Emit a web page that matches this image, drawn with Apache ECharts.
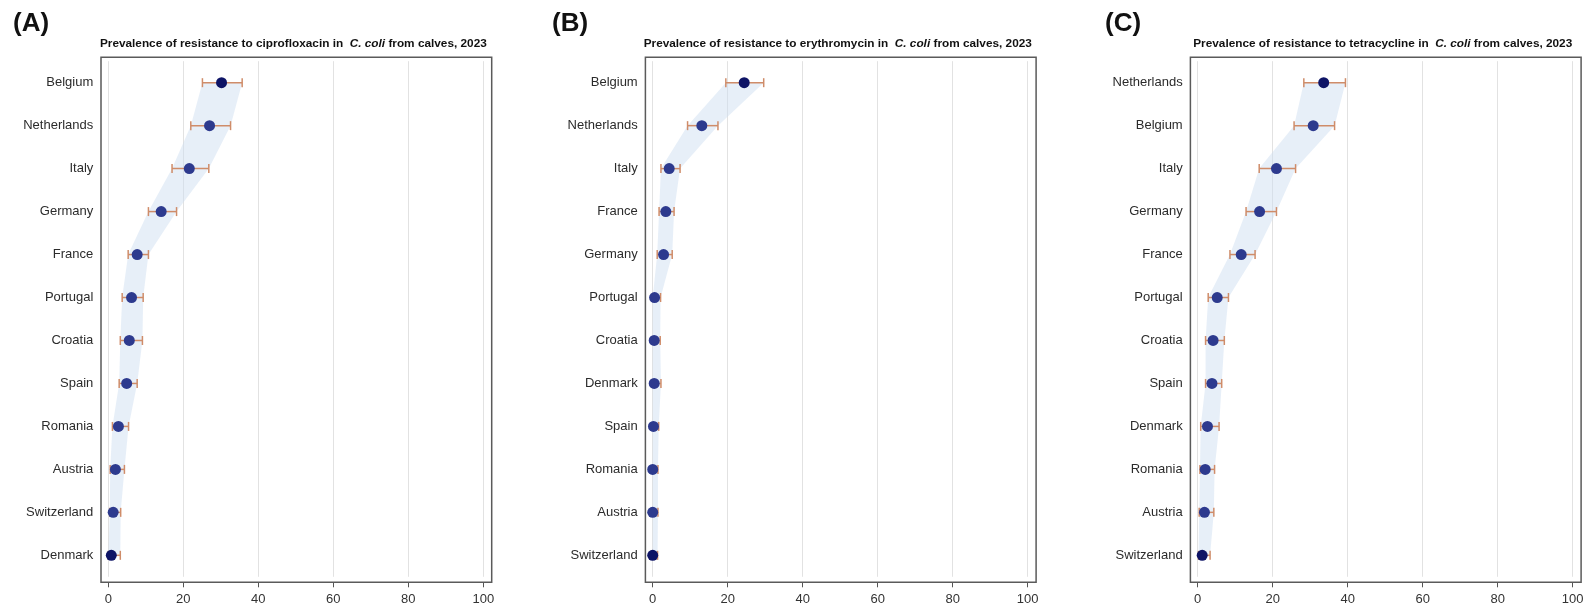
<!DOCTYPE html>
<html><head><meta charset="utf-8">
<script src="https://cdn.jsdelivr.net/npm/echarts@6/dist/echarts.min.js"></script>
<style>html,body{margin:0;padding:0;background:#fff}#c{width:1589px;height:612px}</style>
</head><body><div id="c"></div>
<script>
// ---- data ----
const panelLabels = ['(A)', '(B)', '(C)'];
const drugs = ['ciprofloxacin', 'erythromycin', 'tetracycline'];
const xTicks = [0, 20, 40, 60, 80, 100];

const catsA = ['Belgium','Netherlands','Italy','Germany','France','Portugal','Croatia','Spain','Romania','Austria','Switzerland','Denmark'];
const estA  = [30.2, 27.0, 21.6, 14.1, 7.7, 6.2, 5.6, 4.9, 2.7, 1.9, 1.3, 0.8];
const lowA  = [25.1, 22.0, 17.0, 10.7, 5.3, 3.7, 3.2, 2.9, 1.1, 0.5, 0.4, 0.0];
const highA = [35.7, 32.6, 26.8, 18.2, 10.7, 9.3, 9.1, 7.7, 5.4, 4.3, 3.3, 3.2];

const catsB = ['Belgium','Netherlands','Italy','France','Germany','Portugal','Croatia','Denmark','Spain','Romania','Austria','Switzerland'];
const estB  = [24.4, 13.1, 4.4, 3.5, 2.9, 0.5, 0.4, 0.4, 0.2, 0.0, 0.0, 0.0];
const lowB  = [19.5, 9.3, 2.2, 1.7, 1.2, 0.0, 0.0, 0.0, 0.0, 0.0, 0.0, 0.0];
const highB = [29.6, 17.4, 7.3, 5.7, 5.2, 2.1, 2.0, 2.2, 1.6, 1.4, 1.4, 1.3];

const catsC = ['Netherlands','Belgium','Italy','Germany','France','Portugal','Croatia','Spain','Denmark','Romania','Austria','Switzerland'];
const estC  = [33.6, 30.8, 21.0, 16.5, 11.6, 5.2, 4.1, 3.8, 2.6, 2.0, 1.8, 1.2];
const lowC  = [28.3, 25.7, 16.4, 12.9, 8.6, 2.8, 2.1, 2.1, 0.8, 0.6, 0.4, 0.2];
const highC = [39.4, 36.5, 26.1, 21.0, 15.3, 8.2, 7.1, 6.4, 5.7, 4.5, 4.3, 3.3];

// ---- layout / style ----
const panels = [
  {cats: catsA, est: estA, low: lowA, high: highA},
  {cats: catsB, est: estB, low: lowB, high: highB},
  {cats: catsC, est: estC, low: lowC, high: highC}
];
const X0 = [108.3, 652.7, 1197.7];
const LBLX = [13, 552, 1105];
const GW = 375, GTOP = 61.2, GH = 515.6;
const BOX_PAD_L = 7.3, BOX_W = 390.7, BOX_TOP = 57.3, BOX_H = 525;
const FONT = '"Liberation Sans", Arial, sans-serif';
const ERR = '#cf8c69';
const DOT = '#2d3a8e', DOT_DARK = '#0e1466';
const BAND = 'rgba(205,221,241,0.48)';

const grids = [], xAxes = [], yAxes = [], series = [], graphics = [];

panels.forEach((p, i) => {
  grids.push({left: X0[i], top: GTOP, width: GW, height: GH});
  xAxes.push({
    gridIndex: i, type: 'value', min: xTicks[0], max: xTicks[xTicks.length - 1], interval: 20,
    offset: 5.5,
    axisLine: {show: false},
    axisTick: {show: true, length: 5, lineStyle: {color: '#555', width: 1}},
    axisLabel: {color: '#333', fontSize: 13, fontFamily: FONT, margin: 11},
    splitLine: {show: true, lineStyle: {color: '#e2e2e2', width: 1}}
  });
  yAxes.push({
    gridIndex: i, type: 'category', inverse: true, data: p.cats,
    axisLine: {show: false}, axisTick: {show: false}, splitLine: {show: false},
    axisLabel: {color: '#2b2b2b', fontSize: 13, fontFamily: FONT, margin: 15}
  });
  // CI band
  series.push({
    type: 'custom', xAxisIndex: i, yAxisIndex: i, silent: true, z: 1,
    data: [[0, 0]],
    renderItem: (params, api) => {
      const pts = [];
      for (let k = 0; k < p.low.length; k++) pts.push(api.coord([p.low[k], k]));
      for (let k = p.high.length - 1; k >= 0; k--) pts.push(api.coord([p.high[k], k]));
      return {type: 'polygon', shape: {points: pts}, style: {fill: BAND}};
    }
  });
  // error bars
  series.push({
    type: 'custom', xAxisIndex: i, yAxisIndex: i, silent: true, z: 3,
    data: p.cats.map((c, k) => [p.low[k], p.high[k], k]),
    encode: {x: [0, 1], y: 2},
    renderItem: (params, api) => {
      const k = params.dataIndex;
      const a = api.coord([api.value(0), k]);
      const b = api.coord([api.value(1), k]);
      const h = 4.5;
      const st = {stroke: ERR, lineWidth: 1.5};
      return {type: 'group', children: [
        {type: 'line', shape: {x1: a[0], y1: a[1], x2: b[0], y2: b[1]}, style: st},
        {type: 'line', shape: {x1: a[0], y1: a[1] - h, x2: a[0], y2: a[1] + h}, style: st},
        {type: 'line', shape: {x1: b[0], y1: b[1] - h, x2: b[0], y2: b[1] + h}, style: st}
      ]};
    }
  });
  // point estimates
  const last = p.est.length - 1;
  series.push({
    type: 'scatter', xAxisIndex: i, yAxisIndex: i, z: 4, symbolSize: 11,
    data: p.est.map((v, k) => [v, k]),
    itemStyle: {opacity: 1, color: (q) => (q.dataIndex === 0 || q.dataIndex === last) ? DOT_DARK : DOT}
  });
  // frame
  graphics.push({
    type: 'rect', z: 10, silent: true,
    shape: {x: X0[i] - BOX_PAD_L, y: BOX_TOP, width: BOX_W, height: BOX_H},
    style: {fill: 'none', stroke: '#5a5a5a', lineWidth: 1.5}
  });
  // title
  graphics.push({
    type: 'text', z: 10, silent: true,
    style: {
      x: X0[i] - BOX_PAD_L + BOX_W / 2 - 3, y: 43.5,
      text: '{b|Prevalence of resistance to ' + drugs[i] + ' in  }{i|C. coli}{b| from calves, 2023}',
      align: 'center', verticalAlign: 'middle',
      rich: {
        b: {fontSize: 11.8, fontWeight: 'bold', fontFamily: FONT, fill: '#111'},
        i: {fontSize: 11.8, fontWeight: 'bold', fontStyle: 'italic', fontFamily: FONT, fill: '#111'}
      }
    }
  });
  // panel label
  graphics.push({
    type: 'text', z: 10, silent: true,
    style: {x: LBLX[i], y: 24, text: panelLabels[i], align: 'left', verticalAlign: 'middle',
      fontSize: 26, fontWeight: 'bold', fontFamily: FONT, fill: '#111'}
  });
});

const chart = echarts.init(document.getElementById('c'), null, {renderer: 'canvas'});
chart.setOption({
  animation: false,
  backgroundColor: '#fff',
  grid: grids, xAxis: xAxes, yAxis: yAxes, series: series,
  graphic: graphics
});
</script>
</body></html>
